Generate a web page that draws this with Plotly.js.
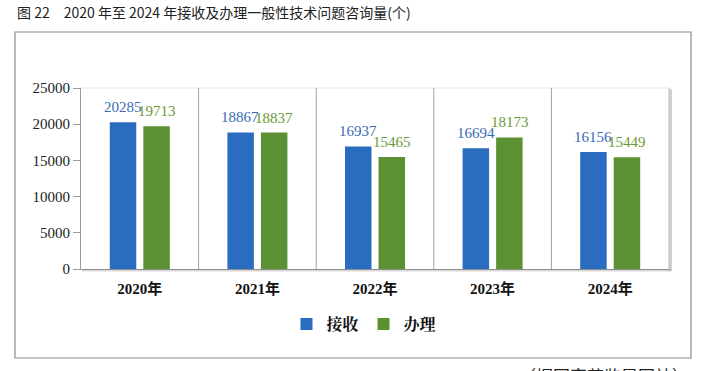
<!DOCTYPE html>
<html><head><meta charset="utf-8">
<script src="https://cdn.plot.ly/plotly-3.0.1.min.js"></script>
<style>html,body{margin:0;padding:0;background:#fff}#c{width:709px;height:371px}</style>
</head><body><div id="c"></div>
<script>
const categories = ['2020年','2021年','2022年','2023年','2024年'];
const received = [20285, 18867, 16937, 16694, 16156];
const handled = [19713, 18837, 15465, 18173, 15449];
const seriesNames = ['接收','办理'];
const yTicks = [0, 5000, 10000, 15000, 20000, 25000];

const serif = 'Liberation Serif, Times New Roman, Noto Sans CJK SC, serif';
const W = 709, H = 371, L = 81, R = 669, T = 88, B = 269;
const px = x => (x - L) / (R - L);
const py = y => (B - y) / (B - T);
const blue = '#2A6CC0', green = '#5B9132';
const blueTxt = '#3A6BB5', greenTxt = '#6A9A36';

const traces = [
  {type:'bar', name:seriesNames[0], x:categories, y:received, marker:{color:blue}},
  {type:'bar', name:seriesNames[1], x:categories, y:handled, marker:{color:green}}
];

const shapes = [
  {type:'rect', xref:'paper', yref:'paper', x0:px(15), x1:px(691), y0:py(358), y1:py(32),
   line:{color:'#8a8a8a', width:1.2}},
  {type:'line', xref:'paper', yref:'paper', x0:px(670.5), x1:px(670.5), y0:py(271), y1:py(89),
   line:{color:'rgba(0,0,0,0.18)', width:3}},
  {type:'line', xref:'paper', yref:'paper', x0:px(82), x1:px(671), y0:py(270.5), y1:py(270.5),
   line:{color:'rgba(0,0,0,0.15)', width:2}},
  {type:'line', xref:'paper', yref:'paper', x0:0, x1:1, y0:1, y1:1,
   line:{color:'#e4e4e4', width:1}},
  {type:'line', xref:'paper', yref:'paper', x0:1, x1:1, y0:0, y1:1,
   line:{color:'#bdbdbd', width:1}}
];
for (let i = 0; i < categories.length - 1; i++) {
  shapes.push({type:'line', xref:'x', yref:'paper', x0:i+0.5, x1:i+0.5, y0:0, y1:1,
    line:{color:'#a0a0a0', width:1}});
}

const annotations = [
  {xref:'paper', yref:'paper', x:px(15), y:py(12), xanchor:'left', yanchor:'middle', showarrow:false,
   text:'图 22　2020 年至 2024 年接收及办理一般性技术问题咨询量(个)',
   font:{family:'Noto Sans CJK SC, sans-serif', size:14, color:'#222'}},
  {xref:'paper', yref:'paper', x:px(691), y:py(375), xanchor:'right', yanchor:'middle', showarrow:false,
   text:'（据国家药监局网站）',
   font:{family:'Noto Sans CJK SC, sans-serif', size:17, color:'#222'}}
];
categories.forEach((c, i) => {
  annotations.push({xref:'x', yref:'y', x:c, y:received[i], xshift:-17, yshift:5, yanchor:'bottom',
    showarrow:false, text:String(received[i]), font:{family:serif, size:15, color:blueTxt}});
  annotations.push({xref:'x', yref:'y', x:c, y:handled[i], xshift:17, yshift:5, yanchor:'bottom',
    showarrow:false, text:String(handled[i]), font:{family:serif, size:15, color:greenTxt}});
});

const layout = {
  width:W, height:H, margin:{l:L, r:W-R, t:T, b:H-B, pad:0},
  paper_bgcolor:'#fff', plot_bgcolor:'#fff',
  barmode:'group', bargap:0.43, bargroupgap:0.21,
  showlegend:true,
  legend:{orientation:'h', x:px(364), xanchor:'center', y:py(324), yanchor:'middle',
    font:{family:'Noto Serif CJK SC, Noto Sans CJK SC, serif', size:16, color:'#111', weight:'bold'},
    itemwidth:30, tracegroupgap:0},
  xaxis:{type:'category', showgrid:false, zeroline:false, showline:true, linecolor:'#9a9a9a',
    ticks:'', ticklabelstandoff:6, tickfont:{family:serif, size:15, color:'#111', weight:'bold'}, fixedrange:true},
  yaxis:{range:[0,25000], tickvals:yTicks, ticktext:yTicks.map(String), showgrid:false, zeroline:false,
    showline:true, linecolor:'#9a9a9a', ticks:'outside', ticklen:7, tickcolor:'#9a9a9a',
    tickfont:{family:serif, size:15, color:'#222'}, fixedrange:true},
  shapes:shapes,
  annotations:annotations
};
Plotly.newPlot('c', traces, layout, {displayModeBar:false, staticPlot:true});
</script></body></html>
